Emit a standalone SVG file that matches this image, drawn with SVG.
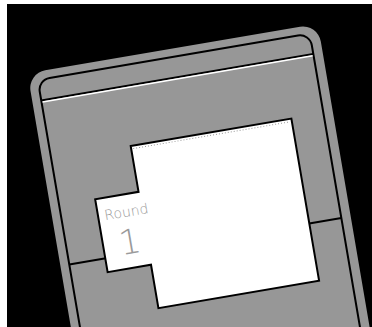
<svg xmlns="http://www.w3.org/2000/svg" width="372" height="327" viewBox="0 0 372 327">
  <style>
    .card { fill: #979797; }
    .line { stroke: #000; stroke-width: 2; fill: none; }
    .hl { stroke: #fff; stroke-width: 1.5; fill: none; }
    .panel { fill: #fff; stroke: #000; stroke-width: 2; stroke-linejoin: miter; }
    .label { font-family: "DejaVu Sans", "Liberation Sans", sans-serif; font-weight: 200; fill: #9a9a9a; text-anchor: middle; }
  </style>
  <rect x="0" y="0" width="372" height="327" fill="#fff"/>
  <rect x="7" y="4" width="365" height="323" fill="#000"/>
  <g transform="translate(130.7,146) rotate(-9.7)">
    <g id="card">
      <rect class="card" x="-89.5" y="-89" width="294.5" height="460" rx="18"/>
      <rect class="line" x="-80.5" y="-80.8" width="276" height="450" rx="12"/>
      <line class="line" x1="-80.5" y1="-60" x2="195.5" y2="-60"/>
      <line class="hl" x1="-79.5" y1="-58.2" x2="194.5" y2="-58.2"/>
      <line class="line" x1="-80.5" y1="106.5" x2="195.5" y2="106.5"/>
    </g>
    <g id="panel">
      <polygon class="panel" points="0,0 163,0 163,164.5 0,164.5 0,120.5 -44,120.5 -44,46.5 0,46.5"/>
      <line x1="2" y1="3" x2="161" y2="3" stroke="#9a9a9a" stroke-width="1" stroke-dasharray="1 2"/>
    </g>
    <g id="label">
      <text class="label" x="-15.5" y="69" font-size="14">Round</text>
      <text class="label" x="-17" y="106" font-size="34">1</text>
    </g>
  </g>
</svg>
